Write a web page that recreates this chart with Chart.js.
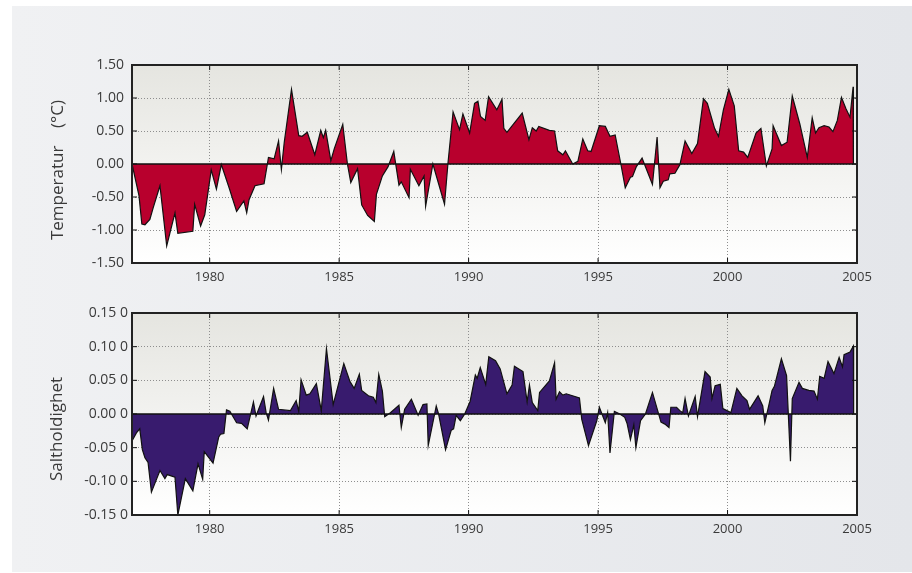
<!DOCTYPE html>
<html>
<head>
<meta charset="utf-8">
<script src="https://cdn.jsdelivr.net/npm/chart.js@4.4.1/dist/chart.umd.min.js"></script>
<style>
  body { margin: 0; background: #fff; }
  #wrap { position: relative; width: 912px; height: 573px; overflow: hidden; }
  #panel { position: absolute; left: 12px; top: 6px; width: 900px; height: 566px;
    background: linear-gradient(to right, #f0f1f3, #e4e6ea); }
  canvas { position: absolute; left: 0; }
</style>
</head>
<body>
<div id="wrap">
  <div id="panel"></div>
  <canvas id="tempChart" width="912" height="300" style="top:0"></canvas>
  <canvas id="saltChart" width="912" height="273" style="top:300px"></canvas>
</div>
<script>
// temperature anomaly (°C)
var tempYears = [1977.00, 1977.27, 1977.38, 1977.50, 1977.69, 1977.82, 1978.08, 1978.34, 1978.66, 1978.77,
  1979.35, 1979.42, 1979.65, 1979.81, 1980.06, 1980.26, 1980.45, 1980.75, 1981.04, 1981.32,
  1981.43, 1981.52, 1981.75, 1982.10, 1982.27, 1982.49, 1982.66, 1982.77, 1982.88, 1983.16,
  1983.44, 1983.57, 1983.77, 1984.06, 1984.29, 1984.39, 1984.48, 1984.68, 1984.81, 1985.14,
  1985.32, 1985.45, 1985.71, 1985.87, 1986.10, 1986.36, 1986.44, 1986.67, 1986.89, 1987.11,
  1987.31, 1987.40, 1987.70, 1987.75, 1988.08, 1988.28, 1988.34, 1988.62, 1989.07, 1989.20,
  1989.40, 1989.65, 1989.78, 1990.04, 1990.23, 1990.36, 1990.46, 1990.64, 1990.77, 1991.09,
  1991.29, 1991.36, 1991.48, 1992.07, 1992.33, 1992.46, 1992.61, 1992.71, 1993.12, 1993.32,
  1993.44, 1993.64, 1993.74, 1994.02, 1994.22, 1994.41, 1994.60, 1994.73, 1995.05, 1995.28,
  1995.46, 1995.66, 1995.88, 1996.05, 1996.25, 1996.33, 1996.48, 1996.70, 1996.80, 1997.10,
  1997.28, 1997.39, 1997.52, 1997.71, 1997.77, 1997.97, 1998.16, 1998.36, 1998.62, 1998.84,
  1999.07, 1999.22, 1999.50, 1999.65, 1999.84, 2000.05, 2000.26, 2000.43, 2000.62, 2000.78,
  2001.10, 2001.29, 2001.50, 2001.72, 2001.76, 2002.08, 2002.30, 2002.50, 2002.79, 2003.08,
  2003.27, 2003.40, 2003.53, 2003.73, 2003.92, 2004.07, 2004.24, 2004.40, 2004.57, 2004.73,
  2004.85, 2004.86];
var tempValues = [0.00, -0.48, -0.91, -0.92, -0.84, -0.66, -0.33, -1.24, -0.74, -1.05,
  -1.02, -0.61, -0.94, -0.77, -0.09, -0.38, -0.01, -0.36, -0.72, -0.56,
  -0.74, -0.54, -0.33, -0.30, 0.10, 0.08, 0.35, -0.08, 0.33, 1.13,
  0.43, 0.42, 0.48, 0.14, 0.51, 0.40, 0.51, 0.05, 0.23, 0.60,
  0.00, -0.28, -0.07, -0.62, -0.78, -0.87, -0.46, -0.18, -0.04, 0.19,
  -0.32, -0.27, -0.51, -0.08, -0.33, -0.18, -0.64, 0.00, -0.61, 0.00,
  0.79, 0.52, 0.76, 0.47, 0.92, 0.95, 0.72, 0.66, 1.02, 0.82,
  0.98, 0.54, 0.48, 0.77, 0.37, 0.55, 0.50, 0.57, 0.51, 0.50,
  0.20, 0.14, 0.20, 0.00, 0.04, 0.38, 0.20, 0.19, 0.58, 0.57,
  0.42, 0.44, 0.00, -0.36, -0.20, -0.19, -0.04, 0.09, -0.01, -0.31,
  0.41, -0.36, -0.26, -0.24, -0.15, -0.14, -0.01, 0.35, 0.16, 0.31,
  0.99, 0.92, 0.54, 0.42, 0.82, 1.13, 0.88, 0.20, 0.18, 0.10,
  0.47, 0.54, -0.03, 0.23, 0.58, 0.28, 0.33, 1.03, 0.61, 0.10,
  0.70, 0.47, 0.55, 0.58, 0.56, 0.49, 0.66, 1.01, 0.84, 0.71,
  1.17, 0.00];

// salinity anomaly
var saltYears = [1977.00, 1977.17, 1977.30, 1977.40, 1977.50, 1977.62, 1977.75, 1978.08, 1978.27, 1978.36,
  1978.66, 1978.77, 1979.06, 1979.35, 1979.55, 1979.73, 1979.79, 1980.13, 1980.35, 1980.42,
  1980.55, 1980.65, 1980.78, 1981.04, 1981.23, 1981.45, 1981.69, 1981.79, 1982.08, 1982.18,
  1982.27, 1982.47, 1982.66, 1983.12, 1983.34, 1983.44, 1983.53, 1983.73, 1983.87, 1984.12,
  1984.31, 1984.51, 1984.77, 1985.18, 1985.42, 1985.58, 1985.78, 1985.87, 1986.13, 1986.32,
  1986.42, 1986.53, 1986.67, 1986.76, 1986.98, 1987.31, 1987.40, 1987.53, 1987.79, 1988.05,
  1988.24, 1988.39, 1988.44, 1988.75, 1988.84, 1989.11, 1989.33, 1989.42, 1989.52, 1989.68,
  1989.85, 1990.06, 1990.26, 1990.33, 1990.45, 1990.66, 1990.78, 1991.04, 1991.22, 1991.48,
  1991.68, 1991.77, 1992.10, 1992.26, 1992.35, 1992.46, 1992.67, 1992.74, 1993.12, 1993.32,
  1993.38, 1993.51, 1993.64, 1993.77, 1994.28, 1994.37, 1994.63, 1994.95, 1995.05, 1995.18,
  1995.28, 1995.37, 1995.46, 1995.63, 1995.84, 1996.03, 1996.12, 1996.25, 1996.38, 1996.46,
  1996.64, 1996.83, 1997.10, 1997.43, 1997.58, 1997.74, 1997.81, 1998.03, 1998.16, 1998.27,
  1998.36, 1998.49, 1998.75, 1998.84, 1999.13, 1999.33, 1999.40, 1999.52, 1999.72, 1999.82,
  2000.13, 2000.36, 2000.56, 2000.75, 2000.85, 2001.18, 2001.36, 2001.44, 2001.60, 2001.72,
  2001.81, 2002.08, 2002.28, 2002.43, 2002.50, 2002.76, 2002.89, 2003.14, 2003.34, 2003.47,
  2003.56, 2003.73, 2003.88, 2004.11, 2004.31, 2004.44, 2004.50, 2004.73, 2004.86, 2004.87];
var saltValues = [-0.040, -0.028, -0.022, -0.053, -0.065, -0.072, -0.116, -0.084, -0.096, -0.090,
  -0.094, -0.150, -0.096, -0.114, -0.074, -0.097, -0.056, -0.073, -0.034, -0.030,
  -0.029, 0.006, 0.004, -0.013, -0.014, -0.022, 0.018, -0.003, 0.026, 0.002,
  -0.009, 0.038, 0.007, 0.005, 0.020, 0.004, 0.051, 0.028, 0.030, 0.045,
  0.005, 0.097, 0.014, 0.075, 0.048, 0.038, 0.059, 0.035, 0.027, 0.025,
  0.017, 0.059, 0.034, -0.004, 0.002, 0.013, -0.020, 0.007, 0.022, -0.002,
  0.014, 0.015, -0.047, 0.012, 0.000, -0.053, -0.024, -0.022, -0.002, -0.010,
  0.000, 0.019, 0.058, 0.053, 0.069, 0.044, 0.085, 0.079, 0.067, 0.030,
  0.043, 0.071, 0.063, 0.018, 0.043, 0.017, 0.005, 0.032, 0.049, 0.076,
  0.022, 0.033, 0.028, 0.030, 0.024, -0.008, -0.047, -0.010, 0.010, -0.003,
  -0.013, 0.002, -0.058, 0.004, 0.000, -0.005, -0.014, -0.038, -0.016, -0.050,
  -0.010, 0.000, 0.032, -0.012, -0.015, -0.020, 0.010, 0.010, 0.005, 0.002,
  0.023, -0.003, 0.026, -0.004, 0.063, 0.055, 0.023, 0.042, 0.044, 0.008,
  0.002, 0.038, 0.027, 0.020, 0.007, 0.027, 0.012, -0.013, 0.014, 0.035,
  0.041, 0.082, 0.057, -0.070, 0.023, 0.047, 0.038, 0.035, 0.034, 0.022,
  0.056, 0.053, 0.078, 0.060, 0.084, 0.070, 0.088, 0.092, 0.101, 0.000];

var yearTicks = [1980, 1985, 1990, 1995, 2000, 2005];

function toPoints(xs, ys) {
  var pts = [];
  for (var i = 0; i < xs.length; i++) pts.push({ x: xs[i], y: ys[i] });
  return pts;
}

// plot background, frame, zero line, inward ticks and the side title
var plotBox = {
  id: 'plotBox',
  beforeDraw: function (chart) {
    var a = chart.chartArea, c = chart.ctx;
    var g = c.createLinearGradient(0, a.top, 0, a.bottom);
    g.addColorStop(0, '#e5e5e0');
    g.addColorStop(1, '#ffffff');
    c.save();
    c.fillStyle = g;
    c.fillRect(a.left, a.top, a.right - a.left, a.bottom - a.top);
    c.restore();
  },
  afterDatasetsDraw: function (chart) {
    var a = chart.chartArea, c = chart.ctx;
    var ys = chart.scales.y, xs = chart.scales.x;
    c.save();
    c.strokeStyle = '#111';
    c.lineWidth = 1.6;
    var y0 = ys.getPixelForValue(0);
    c.beginPath();
    c.moveTo(a.left, y0);
    c.lineTo(a.right, y0);
    c.stroke();
    c.lineWidth = 1;
    c.beginPath();
    ys.ticks.forEach(function (t) {
      var p = ys.getPixelForValue(t.value);
      c.moveTo(a.left, p); c.lineTo(a.left + 5, p);
      c.moveTo(a.right - 5, p); c.lineTo(a.right, p);
    });
    xs.ticks.forEach(function (t) {
      var p = xs.getPixelForValue(t.value);
      c.moveTo(p, a.bottom); c.lineTo(p, a.bottom - 5);
      c.moveTo(p, a.top); c.lineTo(p, a.top + 5);
    });
    c.stroke();
    c.strokeStyle = '#222';
    c.lineWidth = 2;
    c.strokeRect(a.left, a.top, a.right - a.left, a.bottom - a.top);
    c.restore();
  },
  afterDraw: function (chart, args, opts) {
    var c = chart.ctx;
    c.save();
    c.translate(opts.x, opts.y);
    c.rotate(-Math.PI / 2);
    c.fillStyle = '#3a3a3a';
    c.font = '17px "Open Sans"';
    c.textAlign = 'center';
    c.textBaseline = 'middle';
    c.fillText(opts.text, 0, 0);
    c.restore();
  }
};

function makeOptions(yMin, yMax, yStep, fmt, titleText, titleX, titleY, padTop, xHeight, yPad) {
  return {
    responsive: false,
    animation: false,
    layout: { padding: { top: padTop, right: 55, left: 0, bottom: 0 } },
    plugins: {
      legend: { display: false },
      tooltip: { enabled: false },
      plotBox: { text: titleText, x: titleX, y: titleY }
    },
    scales: {
      x: {
        type: 'linear',
        min: 1977,
        max: 2005,
        afterBuildTicks: function (scale) {
          scale.ticks = yearTicks.map(function (v) { return { value: v }; });
        },
        afterFit: function (scale) { scale.height = xHeight; },
        ticks: {
          color: '#3a3a3a',
          font: { family: 'Open Sans', size: 13 },
          padding: 6,
          maxRotation: 0,
          callback: function (v) { return String(v); }
        },
        grid: { color: '#8e8e8e', lineWidth: 1, drawTicks: false },
        border: { display: false, dash: [1, 2] }
      },
      y: {
        min: yMin,
        max: yMax,
        afterFit: function (scale) { scale.width = 132; },
        ticks: {
          stepSize: yStep,
          color: '#3a3a3a',
          font: { family: 'Open Sans', size: 14 },
          padding: yPad,
          callback: fmt
        },
        grid: { color: '#8e8e8e', lineWidth: 1, drawTicks: false },
        border: { display: false, dash: [1, 2] }
      }
    }
  };
}

new Chart(document.getElementById('tempChart').getContext('2d'), {
  type: 'line',
  data: {
    datasets: [{
      label: 'Temperatur',
      data: toPoints(tempYears, tempValues),
      borderColor: '#111',
      borderWidth: 1.2,
      backgroundColor: '#b8002d',
      fill: 'origin',
      pointRadius: 0,
      tension: 0
    }]
  },
  options: makeOptions(-1.5, 1.5, 0.5, function (v) { return v.toFixed(2); },
    'Temperatur    (°C)', 58, 170, 65, 37, 8),
  plugins: [plotBox]
});

new Chart(document.getElementById('saltChart').getContext('2d'), {
  type: 'line',
  data: {
    datasets: [{
      label: 'Saltholdighet',
      data: toPoints(saltYears, saltValues),
      borderColor: '#111',
      borderWidth: 1.2,
      backgroundColor: '#381b6e',
      fill: 'origin',
      pointRadius: 0,
      tension: 0
    }]
  },
  options: makeOptions(-0.15, 0.15, 0.05, function (v) { return v.toFixed(2) + ' 0'; },
    'Saltholdighet', 57, 129, 13, 58, 4),
  plugins: [plotBox]
});
</script>
</body>
</html>
